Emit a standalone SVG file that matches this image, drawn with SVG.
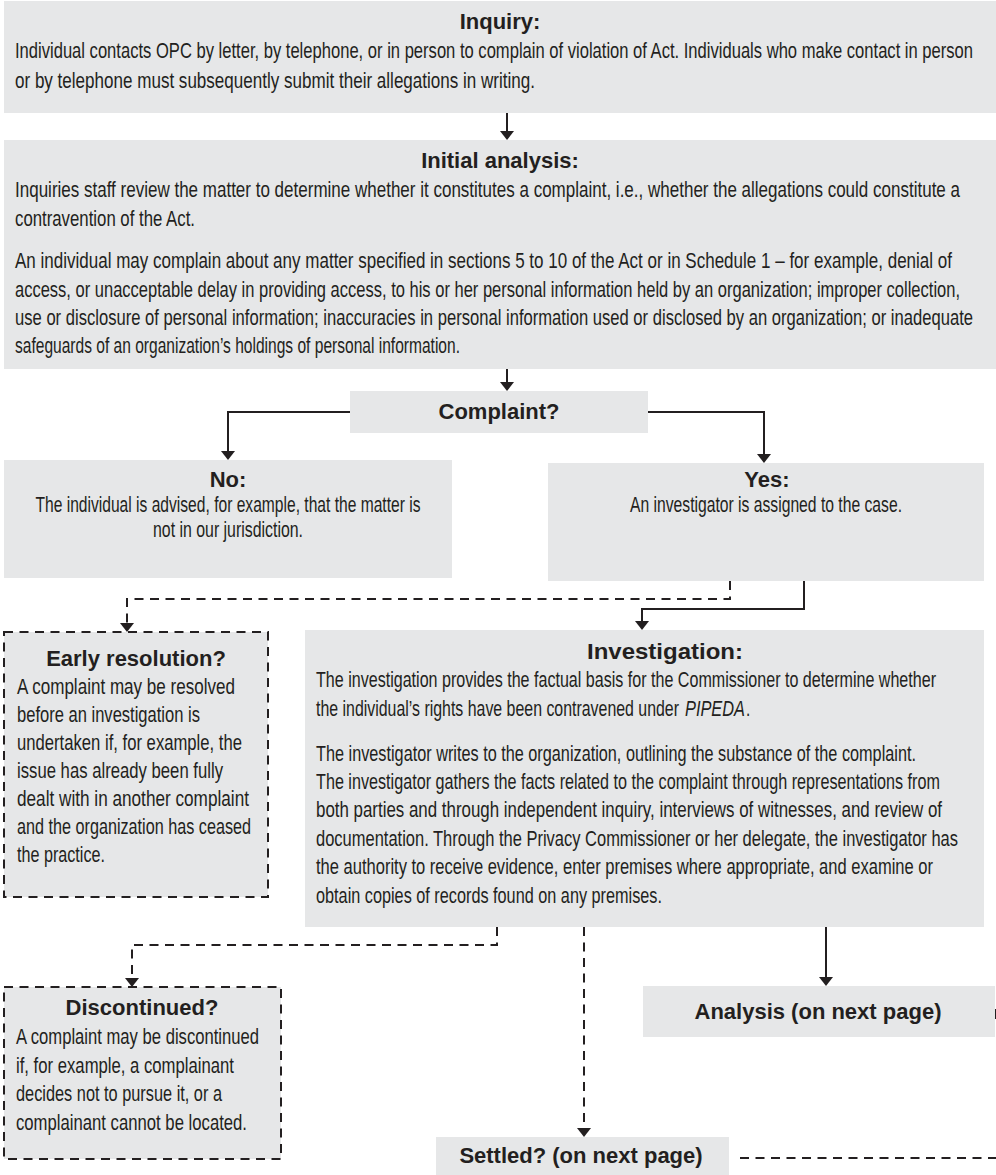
<svg xmlns="http://www.w3.org/2000/svg" width="996" height="1175" viewBox="0 0 996 1175">
<defs>
<style>
.box{fill:#e6e7e8}
.dbox{fill:#e6e7e8;stroke:#231f20;stroke-width:2;stroke-dasharray:9 6.5}
.t{font-family:"Liberation Sans",Arial,sans-serif;font-weight:bold;font-size:22px;fill:#231f20;text-anchor:middle}
.b{font-family:"Liberation Sans",Arial,sans-serif;font-size:22px;fill:#231f20}
.c{text-anchor:middle}
.i{font-style:italic}
.ln{fill:none;stroke:#231f20;stroke-width:2}
.dl{fill:none;stroke:#231f20;stroke-width:2;stroke-dasharray:9 6.5}
</style>
<marker id="ah" markerUnits="userSpaceOnUse" markerWidth="9" markerHeight="14" refX="0" refY="7" orient="auto" viewBox="0 0 9 14"><path d="M0,0 L9,7 L0,14 z" fill="#231f20"/></marker>
</defs>
<rect width="996" height="1175" fill="#ffffff"/>

<g id="connectors">
<path class="ln" d="M507,113 V131" marker-end="url(#ah)"/>
<path class="ln" d="M507,369 V382" marker-end="url(#ah)"/>
<path class="ln" d="M350,412 H228 V451" marker-end="url(#ah)"/>
<path class="ln" d="M648,412 H764 V454" marker-end="url(#ah)"/>
<path class="ln" d="M804,581 V609 H642 V621" marker-end="url(#ah)"/>
<path class="ln" d="M826,927 V977" marker-end="url(#ah)"/>
<path class="dl" d="M730,581 V599 H127 V623" marker-end="url(#ah)"/>
<path class="dl" d="M497,927 V945 H132 V978" marker-end="url(#ah)"/>
<path class="dl" d="M584,927 V1128" marker-end="url(#ah)"/>
<path class="dl" d="M740,1158 H996" stroke-width="1.5"/>
<path class="ln" d="M995,1009 V1019" stroke-width="1.5"/>
</g>

<g id="inquiry">
<rect class="box" x="4" y="1" width="992" height="112"/>
<text class="t" x="500" y="29">Inquiry:</text>
<text class="b" transform="translate(15,58) scale(0.7,1)" textLength="1368.6" lengthAdjust="spacingAndGlyphs">Individual contacts OPC by letter, by telephone, or in person to complain of violation of Act. Individuals who make contact in person</text>
<text class="b" transform="translate(15,88) scale(0.7,1)" textLength="742.9" lengthAdjust="spacingAndGlyphs">or by telephone must subsequently submit their allegations in writing.</text>
</g>

<g id="initial-analysis">
<rect class="box" x="4" y="140" width="992" height="229"/>
<text class="t" x="500" y="168">Initial analysis:</text>
<text class="b" transform="translate(15,197) scale(0.7,1)" textLength="1350" lengthAdjust="spacingAndGlyphs">Inquiries staff review the matter to determine whether it constitutes a complaint, i.e., whether the allegations could constitute a</text>
<text class="b" transform="translate(15,226) scale(0.7,1)" textLength="257.1" lengthAdjust="spacingAndGlyphs">contravention of the Act.</text>
<text class="b" transform="translate(15,268) scale(0.7,1)" textLength="1338.6" lengthAdjust="spacingAndGlyphs">An individual may complain about any matter specified in sections 5 to 10 of the Act or in Schedule 1 – for example, denial of</text>
<text class="b" transform="translate(15,297) scale(0.7,1)" textLength="1350" lengthAdjust="spacingAndGlyphs">access, or unacceptable delay in providing access, to his or her personal information held by an organization; improper collection,</text>
<text class="b" transform="translate(15,325) scale(0.7,1)" textLength="1368.6" lengthAdjust="spacingAndGlyphs">use or disclosure of personal information; inaccuracies in personal information used or disclosed by an organization; or inadequate</text>
<text class="b" transform="translate(15,353) scale(0.7,1)" textLength="635.7" lengthAdjust="spacingAndGlyphs">safeguards of an organization’s holdings of personal information.</text>
</g>

<g id="complaint">
<rect class="box" x="350" y="391" width="298" height="42"/>
<text class="t" x="499" y="419">Complaint?</text>
</g>

<g id="no">
<rect class="box" x="4" y="460" width="448" height="118"/>
<text class="t" x="228" y="487">No:</text>
<text class="b c" transform="translate(228,512) scale(0.7,1)" textLength="550" lengthAdjust="spacingAndGlyphs">The individual is advised, for example, that the matter is</text>
<text class="b c" transform="translate(228,537) scale(0.7,1)" textLength="214.3" lengthAdjust="spacingAndGlyphs">not in our jurisdiction.</text>
</g>

<g id="yes">
<rect class="box" x="548" y="463" width="436" height="118"/>
<text class="t" x="767" y="487">Yes:</text>
<text class="b c" transform="translate(766,512) scale(0.7,1)" textLength="388.6" lengthAdjust="spacingAndGlyphs">An investigator is assigned to the case.</text>
</g>

<g id="early-resolution">
<rect class="dbox" x="4" y="632" width="264" height="265"/>
<text class="t" x="136" y="666">Early resolution?</text>
<text class="b" transform="translate(17,694) scale(0.7,1)" textLength="311.4" lengthAdjust="spacingAndGlyphs">A complaint may be resolved</text>
<text class="b" transform="translate(17,722) scale(0.7,1)" textLength="261.4" lengthAdjust="spacingAndGlyphs">before an investigation is</text>
<text class="b" transform="translate(17,750) scale(0.7,1)" textLength="321.4" lengthAdjust="spacingAndGlyphs">undertaken if, for example, the</text>
<text class="b" transform="translate(17,778) scale(0.7,1)" textLength="294.3" lengthAdjust="spacingAndGlyphs">issue has already been fully</text>
<text class="b" transform="translate(17,806) scale(0.7,1)" textLength="331.4" lengthAdjust="spacingAndGlyphs">dealt with in another complaint</text>
<text class="b" transform="translate(17,834) scale(0.7,1)" textLength="334.3" lengthAdjust="spacingAndGlyphs">and the organization has ceased</text>
<text class="b" transform="translate(17,862) scale(0.7,1)" textLength="125.7" lengthAdjust="spacingAndGlyphs">the practice.</text>
</g>

<g id="investigation">
<rect class="box" x="305" y="630" width="679" height="297"/>
<text class="t" x="665" y="659" textLength="156" lengthAdjust="spacingAndGlyphs">Investigation:</text>
<text class="b" transform="translate(316,687) scale(0.7,1)" textLength="885.7" lengthAdjust="spacingAndGlyphs">The investigation provides the factual basis for the Commissioner to determine whether</text>
<text class="b" transform="translate(316,716) scale(0.7,1)" textLength="518.6" lengthAdjust="spacingAndGlyphs">the individual’s rights have been contravened under</text>
<text class="b i" transform="translate(685,716) scale(0.7,1)" textLength="85.7" lengthAdjust="spacingAndGlyphs">PIPEDA</text>
<text class="b" transform="translate(746,716) scale(0.7,1)">.</text>
<text class="b" transform="translate(316,761) scale(0.7,1)" textLength="857.1" lengthAdjust="spacingAndGlyphs">The investigator writes to the organization, outlining the substance of the complaint.</text>
<text class="b" transform="translate(316,789) scale(0.7,1)" textLength="891.4" lengthAdjust="spacingAndGlyphs">The investigator gathers the facts related to the complaint through representations from</text>
<text class="b" transform="translate(316,817) scale(0.7,1)" textLength="894.3" lengthAdjust="spacingAndGlyphs">both parties and through independent inquiry, interviews of witnesses, and review of</text>
<text class="b" transform="translate(316,846) scale(0.7,1)" textLength="917.1" lengthAdjust="spacingAndGlyphs">documentation. Through the Privacy Commissioner or her delegate, the investigator has</text>
<text class="b" transform="translate(316,874) scale(0.7,1)" textLength="881.4" lengthAdjust="spacingAndGlyphs">the authority to receive evidence, enter premises where appropriate, and examine or</text>
<text class="b" transform="translate(316,903) scale(0.7,1)" textLength="494.3" lengthAdjust="spacingAndGlyphs">obtain copies of records found on any premises.</text>
</g>

<g id="analysis">
<rect class="box" x="643" y="986" width="352" height="51"/>
<text class="t" x="818" y="1019">Analysis (on next page)</text>
</g>

<g id="discontinued">
<rect class="dbox" x="4" y="987" width="277" height="172"/>
<text class="t" x="142" y="1015">Discontinued?</text>
<text class="b" transform="translate(16,1044) scale(0.7,1)" textLength="347.1" lengthAdjust="spacingAndGlyphs">A complaint may be discontinued</text>
<text class="b" transform="translate(16,1073) scale(0.7,1)" textLength="311.4" lengthAdjust="spacingAndGlyphs">if, for example, a complainant</text>
<text class="b" transform="translate(16,1101) scale(0.7,1)" textLength="294.3" lengthAdjust="spacingAndGlyphs">decides not to pursue it, or a</text>
<text class="b" transform="translate(16,1130) scale(0.7,1)" textLength="330" lengthAdjust="spacingAndGlyphs">complainant cannot be located.</text>
</g>

<g id="settled">
<rect class="box" x="436" y="1137" width="293" height="38"/>
<text class="t" x="581" y="1163">Settled? (on next page)</text>
</g>
</svg>
